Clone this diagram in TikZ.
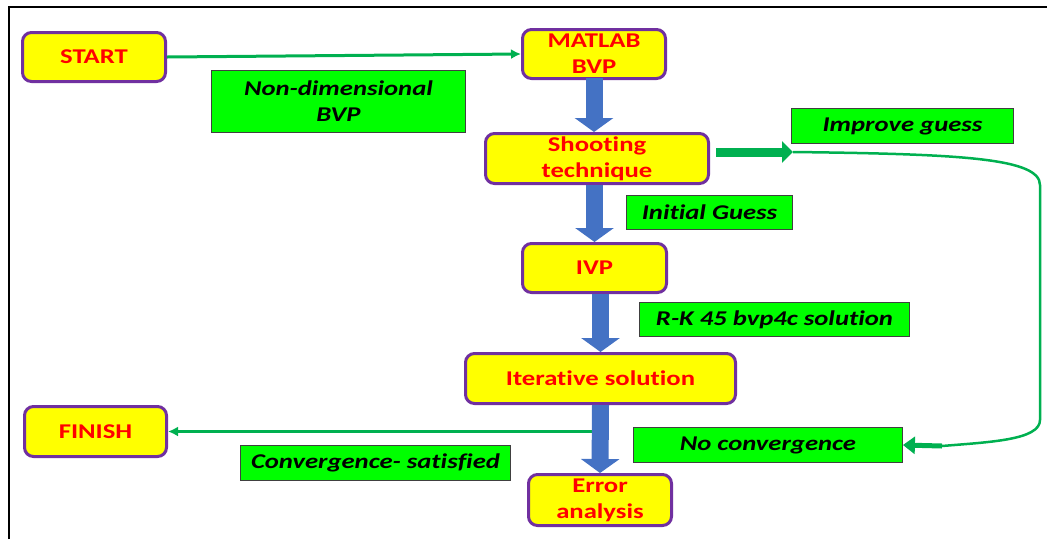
\documentclass[tikz,border=0pt]{standalone}
\usepackage{fontspec}
\setmainfont{Carlito}[FakeStretch=1.27,Ligatures=NoCommon]
\usetikzlibrary{arrows.meta}
\definecolor{boxyellow}{HTML}{FFFF00}
\definecolor{boxpurple}{HTML}{7030A0}
\definecolor{tagfill}{HTML}{00FF00}
\definecolor{linkgreen}{HTML}{00B050}
\definecolor{flowblue}{HTML}{4472C4}
\begin{document}
\begin{tikzpicture}[x=1pt,y=-1pt,
  stage/.style={draw=boxpurple,line width=3pt,fill=boxyellow,rounded corners=9pt,
    text=red,font=\fontsize{21}{26}\selectfont\bfseries,align=center,inner sep=0pt},
  tag/.style={draw=black!75,line width=0.8pt,fill=tagfill,
    font=\fontsize{21}{26}\selectfont\bfseries\itshape,align=center,inner sep=0pt},
  flow/.style={flowblue,line width=17pt,-{Triangle[length=14pt,width=38pt]}},
  link/.style={linkgreen,line width=3pt,-{Latex[length=10pt,width=10pt]}}]
  \useasboundingbox (0,0) rectangle (1047,539);
  % frame (only top and left edges show)
  \draw[line width=2.5pt] (9,539) -- (9,7) -- (1047,7);
  % yellow stages
  \node[stage,minimum width=143,minimum height=49] (start) at (94,57) {START};
  \node[stage,minimum width=143,minimum height=49] (matlab) at (594,54) {MATLAB\\BVP};
  \node[stage,minimum width=223,minimum height=50] (shoot) at (597,158.5) {Shooting\\technique};
  \node[stage,minimum width=144,minimum height=49] (ivp) at (594.5,268) {IVP};
  \node[stage,minimum width=270,minimum height=50] (iter) at (600.5,378.5) {Iterative solution};
  \node[stage,minimum width=142,minimum height=50] (finish) at (95.5,431.5) {FINISH};
  \node[stage,minimum width=143,minimum height=51] (error) at (600,500) {Error\\analysis};
  % green tags
  \node[tag,minimum width=254,minimum height=62] (nondim) at (338.5,101.5) {Non-dimensional\\BVP};
  \node[tag,minimum width=222,minimum height=35] (improve) at (902.5,126) {Improve guess};
  \node[tag,minimum width=166,minimum height=34] (initial) at (709.5,212.5) {Initial Guess};
  \node[tag,minimum width=270,minimum height=34] (rk) at (774.5,319.5) {R-K 45 bvp4c solution};
  \node[tag,minimum width=269,minimum height=35] (noconv) at (768,445) {No convergence};
  \node[tag,minimum width=270,minimum height=35] (convsat) at (375.5,463) {Convergence- satisfied};
  % green connectors
  \draw[link] (start.east) -- (matlab.west);
  \draw[link] (iter.south |- finish.east) -- (finish.east);
  % improve guess loop back to no convergence
  \coordinate (shootout) at (716,152);
  \coordinate (guessin) at (793,152);
  \coordinate (backin) at (942,446);
  \draw[linkgreen,line width=9pt,-{Triangle[length=11pt,width=21pt]}] (shootout) -- (guessin);
  \draw[linkgreen,line width=2.5pt] (guessin) .. controls (960,154) and (1040,158) .. (1040,185)
    -- (1040,420) .. controls (1040,440) and (990,442) .. (backin);
  \draw[linkgreen,line width=5pt,-{Triangle[length=12pt,width=17pt]}] (backin) -- (noconv.east);
  % blue flow arrows
  \draw[flow] ([yshift=2]matlab.south) -- (matlab.south |- shoot.north);
  \draw[flow] (shoot.south -| ivp) -- (ivp.north);
  \draw[flow] (ivp.south -| iter) -- (iter.north);
  \draw[flow] (iter.south) -- (error.north);
\end{tikzpicture}
\end{document}
